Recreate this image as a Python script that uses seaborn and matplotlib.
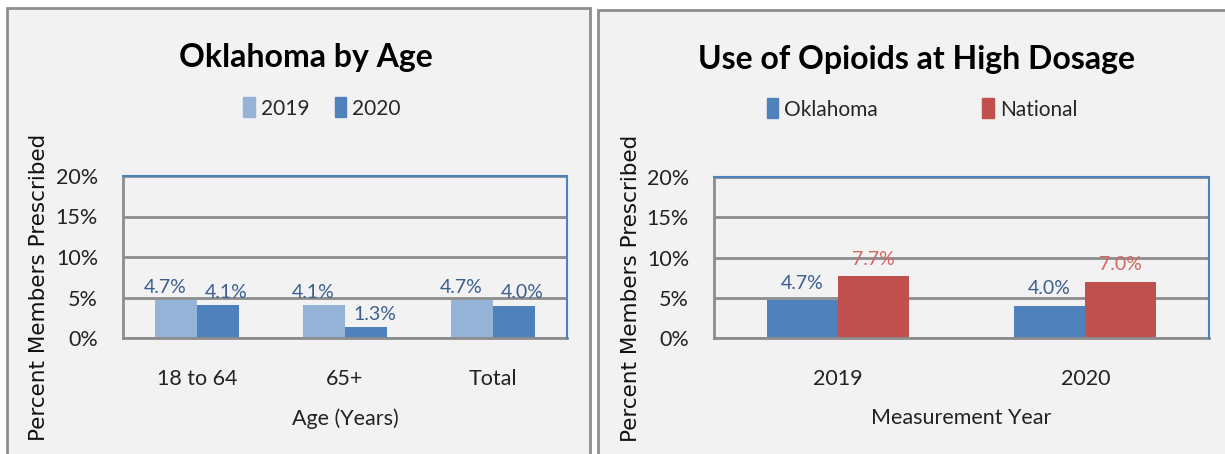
import pandas as pd
import matplotlib.pyplot as plt
import seaborn as sns
from matplotlib.patches import Patch, Rectangle
from matplotlib.ticker import PercentFormatter

# data
age_groups = ["18 to 64", "65+", "Total"]
age_2019 = [4.7, 4.1, 4.7]
age_2020 = [4.1, 1.3, 4.0]

years = ["2019", "2020"]
oklahoma = [4.7, 4.0]
national = [7.7, 7.0]

y_ticks = [0, 5, 10, 15, 20]

df_age = pd.DataFrame({"group": age_groups * 2,
                       "year": ["2019"] * 3 + ["2020"] * 3,
                       "pct": age_2019 + age_2020})
df_nat = pd.DataFrame({"year": years * 2,
                       "who": ["Oklahoma"] * 2 + ["National"] * 2,
                       "pct": oklahoma + national})

sns.set_theme(style="white")
plt.rcParams["font.family"] = ["Lato", "DejaVu Sans"]

light_blue = "#95B3D7"
blue = "#4F81BD"
red = "#C0504D"
panel_bg = "#F2F2F2"
grid_col = "#8C8C8C"
lbl_blue = "#3B5E91"
lbl_red = "#D46460"

fig = plt.figure(figsize=(12.25, 4.54), dpi=100)
fig.patch.set_facecolor("white")

# gray panel frames (behind the axes)
W, H = 1225, 454
for x0, x1, ytop in [(7, 590, 8), (598, 1235, 10)]:
    fig.patches.append(Rectangle((x0 / W, -0.05), (x1 - x0) / W, (H - ytop) / H + 0.05,
                                 transform=fig.transFigure, facecolor=panel_bg,
                                 edgecolor="#8E8E8E", linewidth=2, zorder=-1))

ax1 = fig.add_axes([123 / W, 1 - 338 / H, 444 / W, 162 / H])
ax2 = fig.add_axes([714 / W, 1 - 338 / H, 495 / W, 161 / H])


def style_axes(ax, label_x):
    ax.set_facecolor(panel_bg)
    ax.set_ylim(0, 20)
    ax.set_yticks(y_ticks)
    ax.yaxis.set_major_formatter(PercentFormatter(decimals=0))
    ax.set_axisbelow(True)
    ax.grid(axis="y", color=grid_col, linewidth=2)
    ax.grid(axis="x", visible=False)
    for s in ["left", "bottom"]:
        ax.spines[s].set_color(grid_col)
        ax.spines[s].set_linewidth(2)
    for s in ["top", "right"]:
        ax.spines[s].set_color(blue)
        ax.spines[s].set_linewidth(1.5)
        ax.spines[s].set_zorder(3)
    ax.tick_params(length=0, labelsize=15.5, colors="#222222")
    ax.tick_params(axis="x", pad=22)
    ax.tick_params(axis="y", pad=18)
    ax.set_ylabel("Percent Members Prescribed", fontfamily="DejaVu Sans",
                  fontsize=15.5, color="#111111")
    ax.yaxis.set_label_coords(label_x, 0.31)


# left chart
sns.barplot(data=df_age, x="group", y="pct", hue="year", order=age_groups,
            palette=[light_blue, blue], width=0.57, gap=0, ax=ax1,
            saturation=1, legend=False, linewidth=0)
style_axes(ax1, -0.167)
ax1.set_xlabel("Age (Years)", fontsize=15.5, color="#222222", labelpad=14)
for cont, dx in zip(ax1.containers, [-8, 6]):
    for bar in cont:
        ax1.annotate(f"{bar.get_height():.1f}%",
                     (bar.get_x() + bar.get_width() / 2, bar.get_height()),
                     xytext=(dx, 3), textcoords="offset points",
                     ha="center", va="bottom", fontsize=14, color=lbl_blue)

# right chart
sns.barplot(data=df_nat, x="year", y="pct", hue="who", order=years,
            palette=[blue, red], width=0.575, gap=0, ax=ax2,
            saturation=1, legend=False, linewidth=0)
style_axes(ax2, -0.148)
ax2.set_xlabel("Measurement Year", fontsize=15.5, color="#222222", labelpad=14)
for cont, col in zip(ax2.containers, [lbl_blue, lbl_red]):
    for bar in cont:
        ax2.annotate(f"{bar.get_height():.1f}%",
                     (bar.get_x() + bar.get_width() / 2, bar.get_height()),
                     xytext=(0, 6), textcoords="offset points",
                     ha="center", va="bottom", fontsize=14, color=col)

# titles
fig.text(306 / W, 1 - 57 / H, "Oklahoma by Age", ha="center", va="center",
         fontsize=23, fontweight="bold", color="black")
fig.text(916 / W, 1 - 60 / H, "Use of Opioids at High Dosage", ha="center",
         va="center", fontsize=23, fontweight="bold", color="black")

# legends
leg_kw = dict(frameon=False, fontsize=15, handlelength=0.55, handleheight=1.1,
              handletextpad=0.3, loc="center", ncol=2)
fig.legend([Patch(color=light_blue), Patch(color=blue)], ["2019", "2020"],
           bbox_to_anchor=(322 / W, 1 - 108 / H), columnspacing=1.2, **leg_kw)
fig.legend([Patch(color=blue), Patch(color=red)], ["Oklahoma", "National"],
           bbox_to_anchor=(922 / W, 1 - 109 / H), columnspacing=5.0, **leg_kw)

plt.savefig("out.png", dpi=100, facecolor="white")
